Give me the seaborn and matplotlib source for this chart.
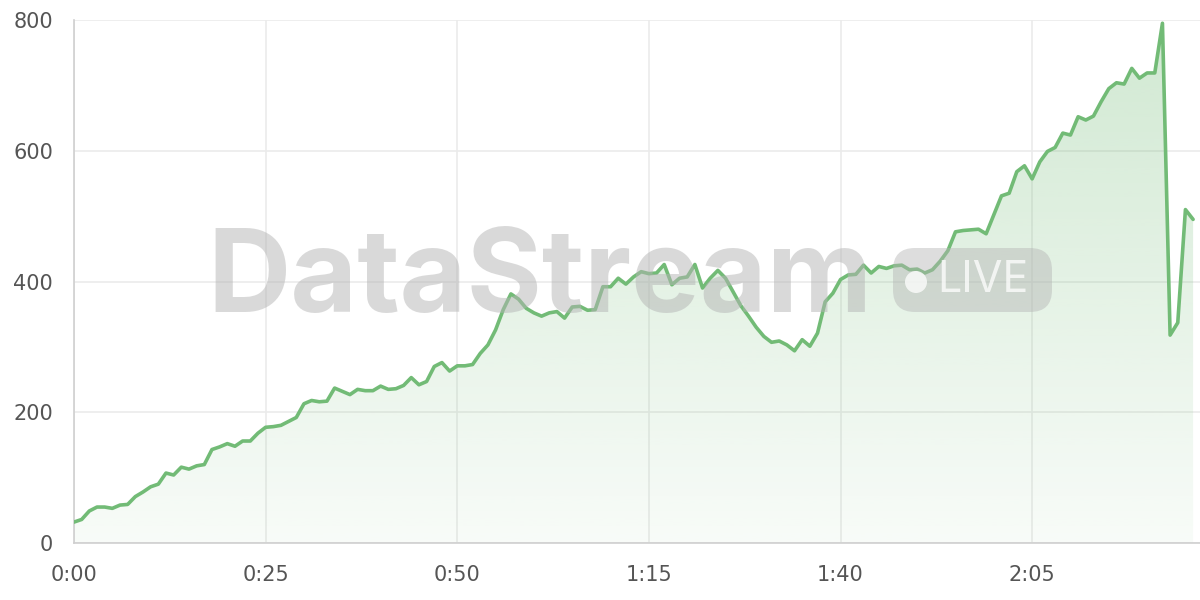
import numpy as np
import pandas as pd
import matplotlib
matplotlib.use("Agg")
import matplotlib.pyplot as plt
import seaborn as sns
from matplotlib.patches import FancyBboxPatch, Circle
from matplotlib.ticker import FuncFormatter, MultipleLocator

# elapsed seconds, one sample per second
values = [
    32, 36, 49, 55, 55, 53, 58, 59, 71, 78, 86, 90, 107, 104, 116, 113, 118, 120, 143, 147, 152, 148, 156, 156, 168, 177,
    178, 180, 186, 192, 213, 218, 216, 217, 237, 232, 227, 235, 233, 233, 240, 235, 236, 241, 253, 242, 247, 270, 276, 263, 271,
    271, 273, 290, 303, 326, 357, 381, 373, 359, 352, 347, 352, 354, 344, 361, 362, 356, 357, 392, 392, 405, 396, 407, 415, 412,
    413, 426, 395, 405, 407, 426, 390, 405, 417, 405, 384, 363, 347, 330, 316, 307, 309, 303, 294, 311, 301, 321, 369, 382, 403,
    410, 411, 425, 413, 423, 420, 424, 425, 418, 419, 413, 418, 431, 447, 476, 478, 479, 480, 473, 502, 531, 535, 568, 577, 557,
    583, 599, 605, 627, 624, 652, 647, 653, 675, 695, 704, 702, 726, 711, 719, 719, 795, 318, 337, 510, 495,
]
seconds = list(range(len(values)))
y_ticks = [0, 200, 400, 600, 800]

GREEN = "#72bb76"
GRID = "#ebebeb"
TEXT = "#555555"

sns.set_theme(style="white")
plt.rcParams["font.family"] = ["Inter", "DejaVu Sans"]

df = pd.DataFrame({"t": seconds, "v": values})

fig = plt.figure(figsize=(12, 6), dpi=100)
ax = fig.add_axes([74 / 1200, 1 - 543 / 600, 1126 / 1200, 523 / 600])

# gradient fill under the line
fill = ax.fill_between(df["t"], df["v"], 0, color="none", lw=0)
grad = np.linspace(0.05, 0.33, 256).reshape(-1, 1)
rgba = np.zeros((256, 1, 4))
rgba[..., :3] = matplotlib.colors.to_rgb(GREEN)
rgba[..., 3] = grad
img = ax.imshow(rgba, extent=[0, df["t"].max(), 0, 800], origin="lower",
                aspect="auto", zorder=1, interpolation="bilinear")
img.set_clip_path(fill.get_paths()[0], transform=ax.transData)

sns.lineplot(data=df, x="t", y="v", ax=ax, color=GREEN, lw=2.6, zorder=4)

ax.set_xlim(0, df["t"].max() + 0.9)
ax.set_ylim(0, 800)
ax.set_yticks(y_ticks)
ax.xaxis.set_major_locator(MultipleLocator(25))
ax.xaxis.set_major_formatter(FuncFormatter(lambda v, p: f"{int(v) // 60}:{int(v) % 60:02d}"))
ax.set_xlabel("")
ax.set_ylabel("")

ax.grid(True, color=GRID, lw=1.2, zorder=0)
ax.set_axisbelow(True)
for s in ["top", "right"]:
    ax.spines[s].set_visible(False)
for s in ["left", "bottom"]:
    ax.spines[s].set_color("#cfcfcf")
    ax.spines[s].set_linewidth(1.2)
ax.tick_params(axis="both", length=8, width=1.2, color=GRID, labelcolor=TEXT, labelsize=15)
for lab in ax.get_xticklabels() + ax.get_yticklabels():
    lab.set_family(["DejaVu Sans"])
ax.tick_params(axis="y", pad=7)
ax.tick_params(axis="x", pad=8)

# watermark (pixel positions via inches, dpi 100)
px = fig.dpi_scale_trans
fig.text(2.07, 6 - 2.82, "DataStream", fontsize=83, fontweight="bold", transform=px,
         color="#b4b4b4", alpha=0.5, ha="left", va="center", zorder=3)
badge = FancyBboxPatch((8.93, 6 - 3.12), 1.59, 0.64,
                       boxstyle="round,pad=0,rounding_size=0.22", transform=px,
                       facecolor="#b4b4b4", edgecolor="none", alpha=0.45, zorder=3)
fig.patches.append(badge)
fig.patches.append(Circle((9.16, 6 - 2.82), 0.11, transform=px,
                          facecolor="white", edgecolor="none", alpha=0.75, zorder=3))
fig.text(9.37, 6 - 2.80, "LIVE", fontsize=31, color="white", alpha=0.75, transform=px,
         ha="left", va="center", zorder=3)

fig.savefig("out.png", dpi=100)
